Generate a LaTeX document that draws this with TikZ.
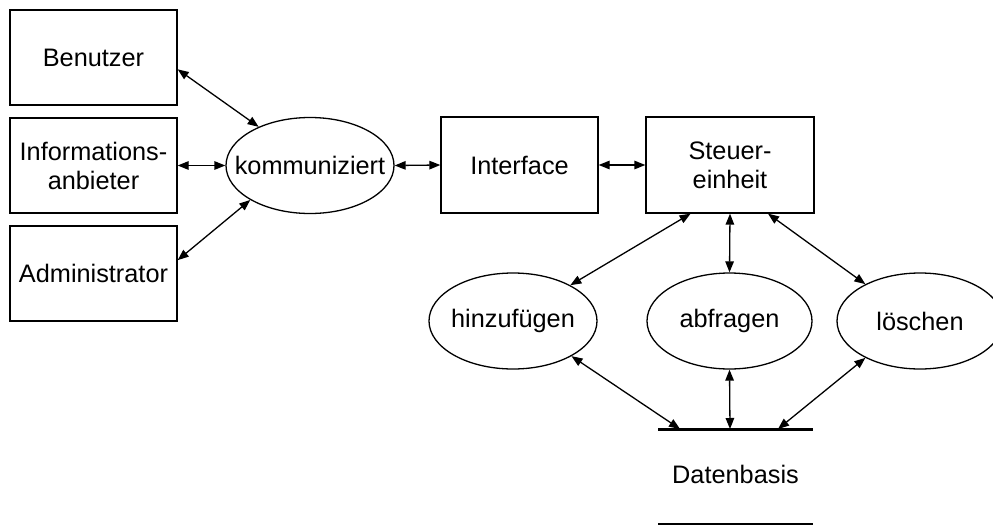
\documentclass[tikz,border=0pt]{standalone}
\usepackage{fontspec}
\setmainfont{Liberation Sans}
\usetikzlibrary{shapes.geometric,arrows.meta}
\begin{document}
\begin{tikzpicture}[x=1pt,y=-1pt,
  every node/.style={font=\fontsize{25.3}{29}\selectfont},
  box/.style={draw,line width=1.3pt,rectangle,inner sep=0pt,minimum height=96pt,align=center},
  oval/.style={draw,line width=1.3pt,ellipse,inner sep=0pt,minimum height=96pt},
  link/.style={line width=1.3pt,{Triangle[length=11pt,width=8.5pt]}-{Triangle[length=11pt,width=8.5pt]}}]
\useasboundingbox (0,0) rectangle (993,525);
% left boxes
\node[box,minimum width=167pt,minimum height=95pt] (ben) at (93.5,57.5) {Benutzer};
\node[box,minimum width=167pt,minimum height=95pt] (inf) at (93.5,165.5) {Informations-\\anbieter};
\node[box,minimum width=167pt,minimum height=95pt] (adm) at (93.5,273.5) {Administrator};
% ellipses and boxes in the middle row
\node[oval,minimum width=168pt] (kom) at (310,165.5) {\makebox[0pt]{kommuniziert}};
\node[box,minimum width=157pt] (int) at (519.5,165) {Interface};
\node[box,minimum width=168pt] (ste) at (730,165) {Steuer-\\einheit};
% lower ellipses
\node[oval,minimum width=168pt] (hin) at (513,321) {\makebox[0pt]{hinzufügen}};
\node[oval,minimum width=165pt] (abf) at (729.5,321) {\makebox[0pt]{abfragen}};
\node[oval,minimum width=166pt] (loe) at (920,321) {\makebox[0pt]{löschen}};
% Datenbasis
\coordinate (dbL) at (658,429);
\coordinate (dbR) at (813,429);
\coordinate (dbA) at (680,429);
\coordinate (dbB) at (730,429);
\coordinate (dbC) at (778,429);
\coordinate (dbL2) at (658,524);
\coordinate (dbR2) at (813,524);
\draw[line width=3pt] (dbL) -- (dbR);
\draw[line width=1.3pt] (dbL2) -- (dbR2);
\node[anchor=base,inner sep=0pt] (db) at (735.5,483) {Datenbasis};
% connectors
\draw[link] (ben.-8.5) -- (kom.143);
\draw[link] (inf.east) -- (kom.west);
\draw[link] (adm.9) -- (kom.210);
\draw[link] (kom.east) -- (int.west);
\draw[link] (int.east) -- (ste.west);
\draw[link] (ste.231.6) -- (hin.32);
\draw[link] (ste.south) -- (abf.north);
\draw[link] (ste.308.4) -- (loe.146);
\draw[link] (hin.329) -- (dbA);
\draw[link] (abf.south) -- (dbB);
\draw[link] (loe.214) -- (dbC);
\end{tikzpicture}
\end{document}
